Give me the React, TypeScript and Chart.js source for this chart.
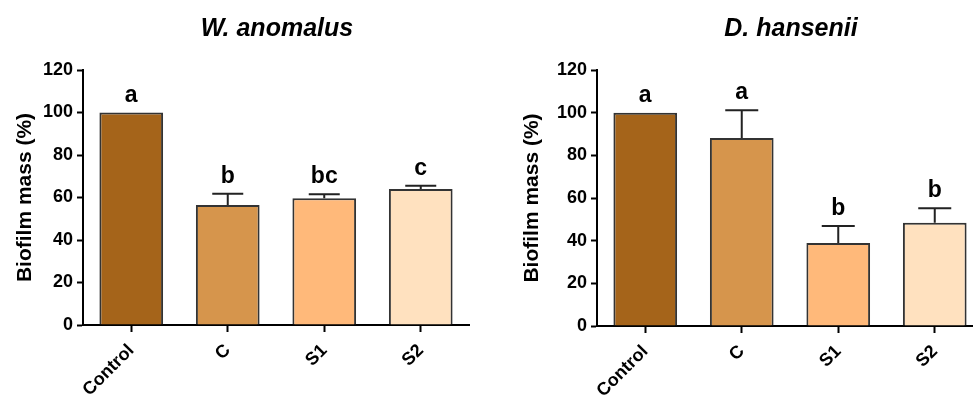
import React, { useEffect, useRef } from 'react';
import { Chart, registerables } from 'chart.js';
Chart.register(...registerables);

const categories = ['Control', 'C', 'S1', 'S2'];
const yAxisTitle = 'Biofilm mass (%)';
const yMin = 0;
const yMax = 120;
const yStep = 20;

const wTitle = 'W. anomalus';
const wMeans = [100, 56.5, 59.6, 64.0];
const wErrors = [0, 5.3, 1.9, 1.5];
const wLetters = ['a', 'b', 'bc', 'c'];

const dTitle = 'D. hansenii';
const dMeans = [100, 88.1, 38.9, 48.4];
const dErrors = [0, 13.0, 8.0, 6.8];
const dLetters = ['a', 'a', 'b', 'b'];

const barColors = ['#A5641A', '#D6954C', '#FFB97A', '#FFE1BF'];
const FONT = '"Liberation Sans", Arial, sans-serif';

type PanelProps = {
  title: string;
  means: number[];
  errors: number[];
  letters: string[];
  canvasWidth: number;
  axisLeft: number;
  chartRight: number;
  chartBottom: number;
  yTitleX: number;
  capWidth: number;
};

function Panel(p: PanelProps) {
  const ref = useRef<HTMLCanvasElement | null>(null);
  useEffect(() => {
    if (!ref.current) return;
    const H = 399;
    const annot = {
      id: 'annot',
      afterDatasetsDraw(chart: any) {
        const ctx = chart.ctx;
        const xs = chart.scales.x;
        const ys = chart.scales.y;
        const ca = chart.chartArea;
        ctx.save();
        ctx.strokeStyle = '#222';
        ctx.lineWidth = 2;
        p.means.forEach((m, i) => {
          const e = p.errors[i];
          const x = xs.getPixelForValue(i);
          const yT = ys.getPixelForValue(m + e);
          const yM = ys.getPixelForValue(m);
          if (e > 0) {
            ctx.beginPath();
            ctx.moveTo(x, yM);
            ctx.lineTo(x, yT);
            ctx.moveTo(x - p.capWidth / 2, yT);
            ctx.lineTo(x + p.capWidth / 2, yT);
            ctx.stroke();
          }
          ctx.fillStyle = '#000';
          ctx.font = `bold 23px ${FONT}`;
          ctx.textAlign = 'center';
          ctx.textBaseline = 'alphabetic';
          ctx.fillText(p.letters[i], x, yT - 11);
        });
        ctx.font = `italic bold 25px ${FONT}`;
        ctx.textAlign = 'center';
        ctx.textBaseline = 'middle';
        ctx.fillStyle = '#000';
        ctx.fillText(p.title, (ca.left + ca.right) / 2 + 1, 29);
        ctx.translate(p.yTitleX, (ca.top + ca.bottom) / 2);
        ctx.rotate(-Math.PI / 2);
        ctx.font = `bold 21px ${FONT}`;
        ctx.fillText(yAxisTitle, 0, 0);
        ctx.restore();
      },
    };
    const chart = new Chart(ref.current, {
      type: 'bar',
      data: {
        labels: categories,
        datasets: [
          {
            data: p.means,
            backgroundColor: barColors,
            borderColor: '#333',
            borderWidth: 2,
            barPercentage: 0.66,
            categoryPercentage: 1,
          },
        ],
      },
      options: {
        animation: false,
        responsive: false,
        devicePixelRatio: 1,
        layout: { padding: { top: 70, left: 0, right: p.canvasWidth - p.chartRight, bottom: 0 } },
        plugins: { legend: { display: false }, tooltip: { enabled: false }, title: { display: false } },
        scales: {
          x: {
            offset: true,
            grid: { display: true, offset: false, drawOnChartArea: false, drawTicks: true, tickLength: 7, tickWidth: 2, tickColor: '#000' },
            border: { display: true, color: '#000', width: 2 },
            ticks: { color: '#000', font: { family: FONT, size: 18, weight: 'bold' }, minRotation: 45, maxRotation: 45, padding: 8 },
            afterFit(s: any) { s.height = H - p.chartBottom; },
          },
          y: {
            min: yMin,
            max: yMax,
            grid: { display: true, drawOnChartArea: false, drawTicks: true, tickLength: 6, tickWidth: 2, tickColor: '#000' },
            border: { display: true, color: '#000', width: 2 },
            ticks: { stepSize: yStep, color: '#000', font: { family: FONT, size: 18, weight: 'bold' }, padding: 4 },
            afterFit(s: any) { s.width = p.axisLeft; },
          },
        },
      },
      plugins: [annot],
    } as any);
    return () => chart.destroy();
  }, []);
  return <canvas ref={ref} width={p.canvasWidth} height={399} style={{ width: p.canvasWidth, height: 399, display: 'block' }} />;
}

export default function App() {
  return (
    <div style={{ position: 'fixed', left: 0, top: 0, width: 973, height: 399, background: '#fff', overflow: 'hidden' }}>
      <div style={{ position: 'absolute', left: 0, top: 0, width: 486, height: 399, overflow: 'hidden' }}>
        <Panel title={wTitle} means={wMeans} errors={wErrors} letters={wLetters} canvasWidth={486} axisLeft={83} chartRight={469} chartBottom={325} yTitleX={25} capWidth={31} />
      </div>
      <div style={{ position: 'absolute', left: 487, top: 0, width: 486, height: 399, overflow: 'hidden' }}>
        <Panel title={dTitle} means={dMeans} errors={dErrors} letters={dLetters} canvasWidth={520} axisLeft={110} chartRight={496} chartBottom={326} yTitleX={45} capWidth={33} />
      </div>
    </div>
  );
}
